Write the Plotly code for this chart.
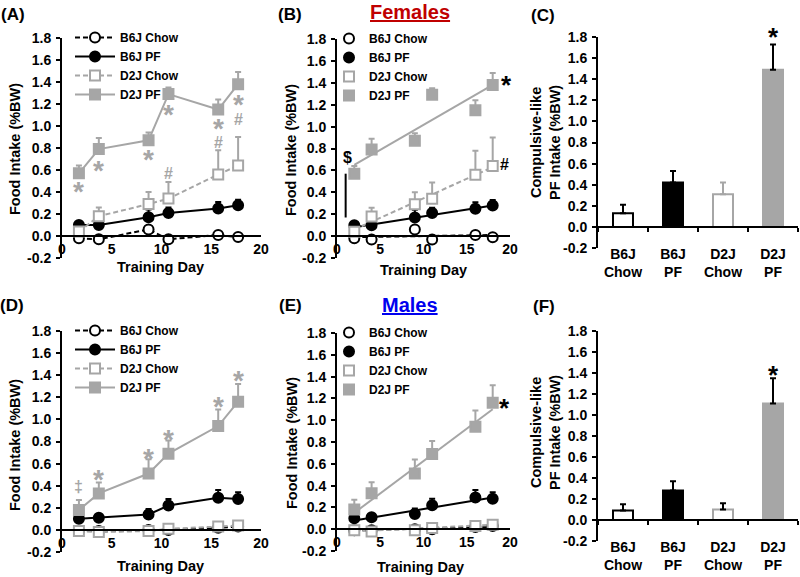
import plotly.graph_objects as go

W, H = 800, 577
GRAY = "#a6a6a6"
FONT = "Liberation Sans, Arial, sans-serif"

# ---------------- data ----------------
groups = ["B6J Chow", "B6J PF", "D2J Chow", "D2J PF"]
bar_labels = ["B6J<br>Chow", "B6J<br>PF", "D2J<br>Chow", "D2J<br>PF"]
days_left = [1.7, 3.7, 8.7, 10.7, 15.7, 17.7]
days_mid = [2, 4, 9, 11, 16, 18]
fit_days = [2, 18]
x_tick_labels = ["0", "5", "10", "15", "20"]
y_tick_labels = ["-0.2", "0.0", "0.2", "0.4", "0.6", "0.8", "1.0", "1.2", "1.4", "1.6", "1.8"]

# Females (A, B)
fem_b6_chow = [-0.02, -0.03, 0.06, -0.03, 0.01, -0.01]
fem_b6_chow_err = [0.01, 0.01, 0.02, 0.01, 0.02, 0.01]
fem_b6_pf = [0.10, 0.10, 0.17, 0.21, 0.25, 0.28]
fem_b6_pf_err = [0.02, 0.02, 0.07, 0.05, 0.06, 0.05]
fem_d2_chow = [0.04, 0.18, 0.29, 0.34, 0.56, 0.64]
fem_d2_chow_err = [0.03, 0.08, 0.11, 0.15, 0.22, 0.26]
fem_d2_pf = [0.57, 0.79, 0.87, 1.29, 1.15, 1.38]
fem_d2_pf_err = [0.07, 0.10, 0.07, 0.06, 0.09, 0.11]

fem_fit_b6_chow = [-0.01, 0.01]
fem_fit_b6_pf = [0.08, 0.28]
fem_fit_d2_chow = [0.06, 0.63]
fem_fit_d2_pf = [0.65, 1.38]

# Males (D, E)
male_b6_chow = [-0.01, -0.01, 0.00, 0.00, 0.02, 0.03]
male_b6_chow_err = [0.01, 0.01, 0.01, 0.01, 0.01, 0.01]
male_b6_pf = [0.10, 0.11, 0.14, 0.22, 0.29, 0.28]
male_b6_pf_err = [0.02, 0.03, 0.05, 0.06, 0.07, 0.06]
male_d2_chow = [-0.01, -0.02, -0.01, 0.01, 0.03, 0.04]
male_d2_chow_err = [0.01, 0.01, 0.01, 0.01, 0.02, 0.02]
male_d2_pf = [0.18, 0.33, 0.51, 0.69, 0.94, 1.16]
male_d2_pf_err = [0.09, 0.10, 0.13, 0.12, 0.15, 0.16]

male_fit_b6_chow = [-0.01, 0.02]
male_fit_b6_pf = [0.08, 0.29]
male_fit_d2_chow = [-0.02, 0.04]
male_fit_d2_pf = [0.15, 1.10]

# Compulsive-like intake (C, F)
fem_comp = [0.13, 0.42, 0.31, 1.49]
fem_comp_err = [0.08, 0.11, 0.11, 0.24]
male_comp = [0.09, 0.28, 0.10, 1.11]
male_comp_err = [0.06, 0.09, 0.06, 0.24]

# significance marks (positions in data units)
a_star_y = [0.45, 0.645, 0.74, 1.15, 1.02, 1.245]
a_hash_x = [10.7, 15.7, 17.7]
a_hash_y = [0.565, 0.85, 1.057]
d_dagger = [1.7, 0.39]
d_star_x = [3.7, 8.7, 10.7, 15.7, 17.7]
d_star_y = [0.50, 0.69, 0.86, 1.16, 1.40]
b_star = [19.6, 1.43]
b_hash = [19.4, 0.65]
b_dollar = [1.2, 0.72]
b_sig_bar_x = [1.0, 1.0]
b_sig_bar_y = [0.17, 0.57]
e_star = [19.4, 1.16]
c_star_y = 1.85
f_star_y = 1.43

# ---------------- styling ----------------
styles = {
    "B6J Chow": dict(color="black", fill="white", symbol="circle", dash="5px,3px"),
    "B6J PF": dict(color="black", fill="black", symbol="circle", dash="solid"),
    "D2J Chow": dict(color=GRAY, fill="white", symbol="square", dash="5px,3px"),
    "D2J PF": dict(color=GRAY, fill=GRAY, symbol="square", dash="solid"),
}

# panel pixel boxes: x-left, x-right, y-top(1.8), y-bottom(-0.2)
panels = {
    "A": dict(x=(62, 261), y=(38, 258), ax="", kind="line"),
    "B": dict(x=(337, 510), y=(39, 258), ax="2", kind="line"),
    "C": dict(x=(598, 798), y=(37, 248), ax="3", kind="bar"),
    "D": dict(x=(62, 261), y=(331, 552), ax="4", kind="line"),
    "E": dict(x=(337, 510), y=(333, 551), ax="5", kind="line"),
    "F": dict(x=(598, 798), y=(331, 541), ax="6", kind="bar"),
}
STAR_SHIFT = -5

def fx(p):
    return p / W

def fy(p):
    return 1 - p / H

def bold(size, color="black"):
    return dict(family=FONT, size=size, color=color, weight="bold")

fig = go.Figure()
layout = dict(
    width=W, height=H, margin=dict(l=0, r=0, t=0, b=0, autoexpand=False),
    paper_bgcolor="white", plot_bgcolor="white",
    font=bold(14), showlegend=True, barmode="overlay",
)

yvals = [float(s) for s in y_tick_labels]
xvals = [float(s) for s in x_tick_labels]

for key, p in panels.items():
    ax = p["ax"]
    xd = [fx(p["x"][0]), fx(p["x"][1])]
    yd = [fy(p["y"][1]), fy(p["y"][0])]
    zero_pos = yd[0] + (0 - (-0.2)) / 2.0 * (yd[1] - yd[0])
    xaxis = dict(domain=xd, anchor="free", position=zero_pos, showline=True,
                 linecolor="black", linewidth=2, showgrid=False, zeroline=False,
                 tickfont=bold(14), fixedrange=True)
    if p["kind"] == "line":
        xaxis.update(range=[0, 20], tickvals=xvals, ticktext=x_tick_labels,
                     ticks="", ticklabelstandoff=0)
    else:
        xaxis.update(type="category", range=[-0.5, 3.5], categoryorder="array",
                     categoryarray=bar_labels, ticks="outside", tickson="boundaries",
                     ticklen=4, tickwidth=1.5, tickcolor="black", ticklabelstandoff=14)
    yaxis = dict(domain=yd, anchor="x" + ax, range=[-0.2, 1.8], tickvals=yvals,
                 ticktext=y_tick_labels, showline=True, linecolor="black", linewidth=2,
                 ticks="outside", ticklen=4, tickwidth=1.5, tickcolor="black",
                 showgrid=False, zeroline=False, tickfont=bold(14),
                 ticklabelstandoff=2, fixedrange=True)
    layout["xaxis" + ax] = xaxis
    layout["yaxis" + ax] = yaxis


def add_line_panel(ax, legend, days, means, errs, connect):
    for g, ys, es in zip(groups, means, errs):
        st = styles[g]
        fig.add_trace(go.Scatter(
            x=days, y=ys, name=g, legend=legend,
            xaxis="x" + ax, yaxis="y" + ax,
            mode="lines+markers" if connect else "markers",
            line=dict(color=st["color"], width=2, dash=st["dash"]),
            marker=dict(symbol=st["symbol"], size=10, color=st["fill"],
                        line=dict(color=st["color"], width=2)),
            error_y=dict(type="data", array=es, arrayminus=[0] * len(es),
                         symmetric=False, color=st["color"], thickness=2, width=3),
        ))


def add_fits(ax, fits):
    for g, ys in zip(groups, fits):
        st = styles[g]
        fig.add_trace(go.Scatter(
            x=fit_days, y=ys, mode="lines", showlegend=False, hoverinfo="skip",
            xaxis="x" + ax, yaxis="y" + ax,
            line=dict(color=st["color"], width=2, dash=st["dash"]),
        ))


def add_bar_panel(ax, means, errs, err_colors):
    for i, g in enumerate(groups):
        st = styles[g]
        fig.add_trace(go.Bar(
            x=[bar_labels[i]], y=[means[i]], width=0.4, showlegend=False,
            xaxis="x" + ax, yaxis="y" + ax,
            marker=dict(color=st["fill"], line=dict(color=st["color"], width=2)),
            error_y=dict(type="data", array=[errs[i]], arrayminus=[0],
                         symmetric=False, color=err_colors[i], thickness=2, width=3),
        ))


fem_means = [fem_b6_chow, fem_b6_pf, fem_d2_chow, fem_d2_pf]
fem_errs = [fem_b6_chow_err, fem_b6_pf_err, fem_d2_chow_err, fem_d2_pf_err]
male_means = [male_b6_chow, male_b6_pf, male_d2_chow, male_d2_pf]
male_errs = [male_b6_chow_err, male_b6_pf_err, male_d2_chow_err, male_d2_pf_err]

add_line_panel("", "legend", days_left, fem_means, fem_errs, True)
add_fits("2", [fem_fit_b6_chow, fem_fit_b6_pf, fem_fit_d2_chow, fem_fit_d2_pf])
add_line_panel("2", "legend2", days_mid, fem_means, fem_errs, False)
add_bar_panel("3", fem_comp, fem_comp_err, ["black", "black", GRAY, "black"])
add_line_panel("4", "legend3", days_left, male_means, male_errs, True)
add_fits("5", [male_fit_b6_chow, male_fit_b6_pf, male_fit_d2_chow, male_fit_d2_pf])
add_line_panel("5", "legend4", days_mid, male_means, male_errs, False)
add_bar_panel("6", male_comp, male_comp_err, ["black", "black", "black", "black"])

# significance bar in B
fig.add_trace(go.Scatter(x=b_sig_bar_x, y=b_sig_bar_y, mode="lines", showlegend=False,
                         xaxis="x2", yaxis="y2", line=dict(color="black", width=2)))

# legends
def legend_box(xp, yp, itemwidth=40):
    return dict(x=fx(xp), y=fy(yp), xanchor="left", yanchor="top",
                bgcolor="rgba(0,0,0,0)", borderwidth=0, font=bold(12),
                itemwidth=itemwidth, tracegroupgap=0)

layout["legend"] = legend_box(70, 23)
layout["legend2"] = legend_box(329, 24, 30)
layout["legend3"] = legend_box(70, 316)
layout["legend4"] = legend_box(329, 318, 30)

ann = []

def text(x, y, s, size, color="black", angle=0, xref="paper", yref="paper", yshift=0):
    if xref == "paper":
        x = fx(x)
    if yref == "paper":
        y = fy(y)
    ann.append(dict(x=x, y=y, xref=xref, yref=yref, text=s, showarrow=False,
                    font=bold(size, color), textangle=angle, xanchor="center",
                    yanchor="middle", yshift=yshift))

# panel letters
text(13, 14, "(A)", 17)
text(290, 14, "(B)", 17)
text(543, 15, "(C)", 17)
text(12, 305, "(D)", 17)
text(290, 305, "(E)", 17)
text(544, 306, "(F)", 17)
text(410, 12, "<u>Females</u>", 20, "#c00000")
text(410, 305, "<u>Males</u>", 20, "#0000ee")

# axis titles
for (xp, yp) in [(15, 149), (291, 150), (15, 445), (292, 443)]:
    text(xp, yp, "Food Intake (%BW)", 14.5, angle=-90)
for (xp, yp) in [(160, 267), (423, 270), (160, 566), (420, 567)]:
    text(xp, yp, "Training Day", 14.5)
for (xp, yp) in [(545, 143), (545, 433)]:
    text(xp, yp, "Compulsive-like<br>PF Intake (%BW)", 14.5, angle=-90)

# significance symbols
for xv, yv in zip(days_left, a_star_y):
    text(xv, yv, "*", 28, GRAY, xref="x", yref="y", yshift=STAR_SHIFT)
for xv, yv in zip(a_hash_x, a_hash_y):
    text(xv, yv, "#", 16, GRAY, xref="x", yref="y")
text(b_star[0], b_star[1], "*", 26, "black", xref="x2", yref="y2", yshift=STAR_SHIFT)
text(b_hash[0], b_hash[1], "#", 16, "black", xref="x2", yref="y2")
text(b_dollar[0], b_dollar[1], "$", 16, "black", xref="x2", yref="y2")
c_star_px = panels["C"]["y"][0] + (1.8 - c_star_y) * (panels["C"]["y"][1] - panels["C"]["y"][0]) / 2.0
text(3, c_star_px, "*", 26, "black", xref="x3", yref="paper", yshift=STAR_SHIFT)
text(d_dagger[0], d_dagger[1], "‡", 16, GRAY, xref="x4", yref="y4")
for xv, yv in zip(d_star_x, d_star_y):
    text(xv, yv, "*", 28, GRAY, xref="x4", yref="y4", yshift=STAR_SHIFT)
text(e_star[0], e_star[1], "*", 26, "black", xref="x5", yref="y5", yshift=STAR_SHIFT)
text(3, f_star_y, "*", 26, "black", xref="x6", yref="y6", yshift=STAR_SHIFT)

layout["annotations"] = ann
fig.update_layout(**layout)
fig.write_html("out.html", config={"displayModeBar": False},
               post_script="document.body.style.margin='0';")
